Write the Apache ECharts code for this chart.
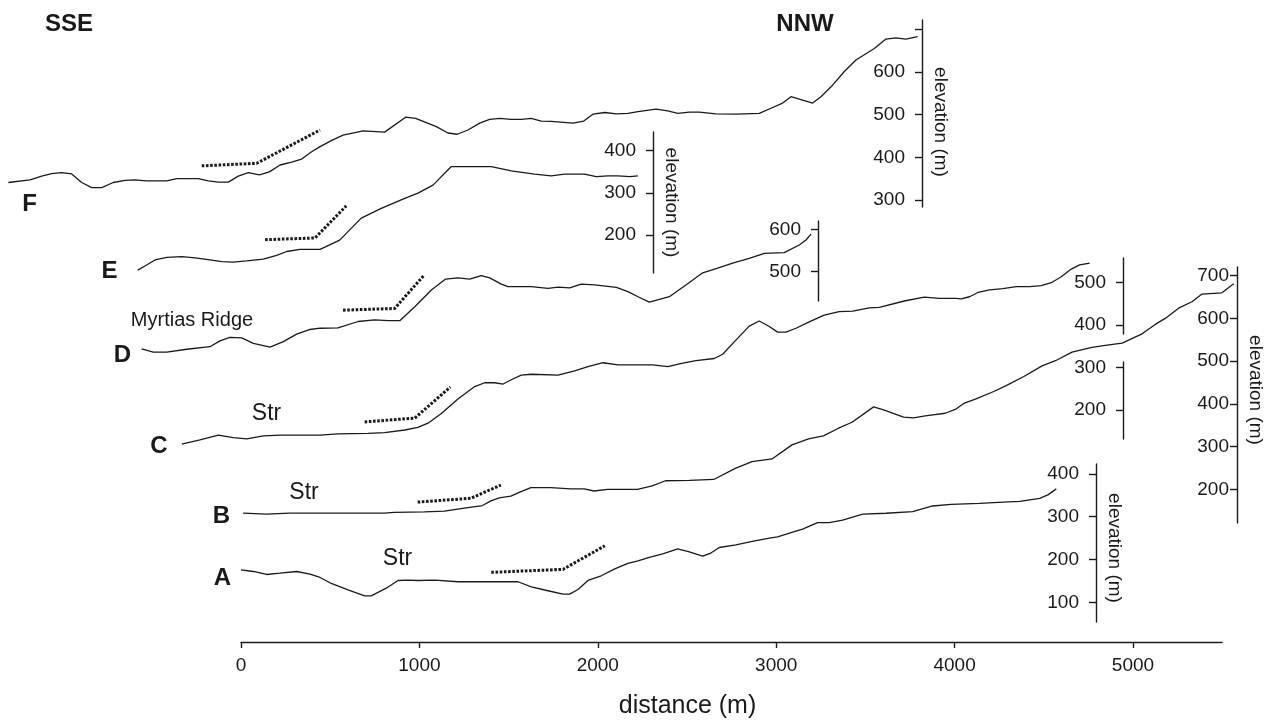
<!DOCTYPE html>
<html><head><meta charset="utf-8">
<script src="https://cdn.jsdelivr.net/npm/echarts@6/dist/echarts.min.js"></script>
<style>html,body{margin:0;padding:0;background:#fff}#chart{width:1273px;height:720px}</style>
</head><body><div id="chart"></div>
<script>
// ---------- data (distance m, elevation m) ----------
const profileF = [[-1304,341],[-1183,347],[-1117,356],[-1061,362],[-1005,364],[-949,361],[-893,341],[-837,329],[-781,329],[-716,341],[-650,346],[-594,347],[-529,345],[-416,345],[-360,350],[-239,350],[-183,345],[-127,342],[-71,342],[-15,356],[41,364],[103,359],[159,366],[219,382],[284,389],[340,396],[396,413],[443,425],[506,439],[572,452],[684,462],[805,459],[923,494],[979,491],[1095,472],[1160,457],[1212,454],[1272,464],[1338,480],[1394,489],[1450,491],[1515,489],[1571,489],[1627,491],[1683,485],[1739,484],[1861,480],[1921,485],[1973,501],[2039,505],[2104,502],[2169,503],[2225,507],[2326,513],[2392,509],[2448,503],[2513,506],[2569,506],[2662,502],[2774,501],[2905,503],[2971,515],[3036,527],[3083,542],[3148,534],[3204,527],[3251,542],[3316,569],[3382,601],[3447,628],[3550,655],[3615,677],[3671,680],[3727,677],[3793,683]];
const profileE = [[-579,117],[-529,129],[-482,141],[-416,147],[-332,149],[-258,146],[-174,141],[-108,137],[-43,136],[32,139],[125,143],[200,152],[256,161],[331,166],[443,166],[553,188],[674,240],[786,263],[908,285],[992,299],[1076,318],[1179,362],[1403,362],[1515,352],[1646,344],[1739,340],[1814,344],[1926,344],[1991,338],[2057,340],[2113,340],[2179,338],[2225,340]];
const profileD = [[-557,316],[-492,308],[-416,308],[-304,315],[-174,321],[-118,335],[-62,343],[4,342],[69,329],[163,320],[237,333],[312,351],[387,362],[443,365],[544,366],[656,381],[749,385],[824,383],[890,383],[974,416],[1067,456],[1147,482],[1216,485],[1282,482],[1347,490],[1394,485],[1459,470],[1497,464],[1627,464],[1721,460],[1777,463],[1842,461],[1907,470],[1982,468],[2104,462],[2169,452],[2225,440],[2289,427],[2401,440],[2494,468],[2588,497],[2672,508],[2756,520],[2849,531],[2933,543],[3045,545],[3129,563],[3167,575],[3195,589]];
const profileC = [[-332,120],[-230,130],[-127,141],[-43,135],[32,132],[125,139],[219,141],[443,141],[544,144],[712,145],[805,147],[918,153],[992,159],[1048,169],[1123,192],[1216,226],[1310,255],[1366,264],[1422,264],[1469,261],[1515,271],[1571,282],[1627,284],[1777,282],[1870,292],[1945,302],[2029,311],[2113,306],[2225,306],[2308,306],[2392,302],[2476,310],[2550,316],[2653,321],[2700,331],[2774,364],[2849,397],[2905,409],[2961,396],[3008,383],[3055,383],[3111,392],[3185,407],[3269,423],[3353,431],[3429,432],[3522,440],[3578,441],[3718,456],[3830,465],[3914,462],[4008,462],[4037,461],[4084,466],[4131,476],[4196,482],[4271,485],[4346,490],[4421,490],[4486,492],[4542,499],[4598,513],[4654,531],[4701,541],[4757,545]];
const profileB = [[13,144],[144,142],[275,144],[443,144],[805,144],[861,146],[1030,147],[1142,149],[1254,156],[1356,162],[1403,173],[1450,180],[1515,184],[1562,193],[1627,204],[1739,204],[1851,201],[1926,201],[1982,196],[2057,200],[2169,200],[2225,200],[2308,208],[2382,220],[2517,221],[2653,223],[2774,249],[2868,265],[2980,271],[3092,304],[3185,318],[3269,325],[3353,343],[3429,357],[3550,393],[3606,386],[3718,369],[3774,367],[3839,372],[3952,378],[4008,387],[4056,401],[4121,411],[4224,429],[4299,444],[4393,464],[4495,489],[4570,501],[4663,521],[4775,532],[4850,537],[4944,542],[5056,564],[5130,586],[5186,600],[5261,624],[5336,639],[5392,657],[5504,660],[5570,681]];
const profileA = [[0,176],[69,172],[144,165],[219,168],[312,172],[387,166],[443,158],[506,144],[600,129],[693,115],[730,115],[814,133],[880,151],[936,152],[992,151],[1086,152],[1216,148],[1553,148],[1627,136],[1721,127],[1805,119],[1842,119],[1889,130],[1945,151],[2019,162],[2095,178],[2169,191],[2225,197],[2289,205],[2364,213],[2448,225],[2513,218],[2588,208],[2634,215],[2681,228],[2774,234],[2859,242],[2961,250],[3008,253],[3092,264],[3148,271],[3232,286],[3297,286],[3372,292],[3485,306],[3615,308],[3765,312],[3877,325],[3980,329],[4140,331],[4271,334],[4365,336],[4477,343],[4523,351],[4570,365]];

const dottedF = [[-220,380],[88,386],[443,464]];
const dottedE = [[135,189],[415,193],[590,269]];
const dottedD = [[572,408],[861,412],[1026,491]];
const dottedC = [[693,172],[974,181],[1174,254]];
const dottedB = [[992,170],[1291,179],[1459,210]];
const dottedA = [[1403,170],[1805,177],[2039,232]];

const distanceTicks = [0,1000,2000,3000,4000,5000];
const elevTicksF = [300,400,500,600,700];
const elevLabelsF = [300,400,500,600];
const elevTicksE = [200,300,400];
const elevTicksD = [500,600];
const elevTicksCUpper = [400,500];
const elevTicksCLower = [200,300];
const elevTicksB = [200,300,400,500,600,700];
const elevTicksA = [100,200,300,400];

// ---------- layout ----------
const FONT = "'Liberation Sans', Arial, sans-serif";
const INK = '#1a1a1a';
const PX_PER_M = 0.1784, X_ZERO_PX = 241;
const toDist = px => (px - X_ZERO_PX) / PX_PER_M;
const plain = v => String(Math.round(v));

const panels = [
  {data: profileF, dots: dottedF, axisX: 922, top: 20, bottom: 207, min: 283.6, max: 721.7, ticks: elevTicksF, labels: elevLabelsF, name: 'elevation (m)', margin: 17, pad: [0,0,0,17]},
  {data: profileE, dots: dottedE, axisX: 653, top: 132, bottom: 273, min: 110.1, max: 443.8, ticks: elevTicksE, labels: elevTicksE, name: 'elevation (m)', margin: 17, pad: [0,0,0,0]},
  {data: profileD, dots: dottedD, axisX: 818, top: 221, bottom: 301, min: 429.8, max: 620.2, ticks: elevTicksD, labels: elevTicksD, name: '', margin: 17},
  {data: profileC, dots: dottedC, axisX: 1123, top: 258, bottom: 334, min: 378.5, max: 557.0, ticks: elevTicksCUpper, labels: elevTicksCUpper, name: '', margin: 17},
  {data: null, dots: null, axisX: 1123, top: 362, bottom: 439, min: 131.9, max: 312.8, ticks: elevTicksCLower, labels: elevTicksCLower, name: '', margin: 17},
  {data: profileB, dots: dottedB, axisX: 1238, top: 267, bottom: 523, min: 121.1, max: 720.4, ticks: elevTicksB, labels: elevTicksB, name: 'elevation (m)', margin: 8, pad: [0,10,0,0]},
  {data: profileA, dots: dottedA, axisX: 1096, top: 464, bottom: 622, min: 54.0, max: 423.1, ticks: elevTicksA, labels: elevTicksA, name: 'elevation (m)', margin: 17, pad: [0,0,0,10]}
];

const grid = [], xAxis = [], yAxis = [], series = [];
panels.forEach((p, i) => {
  grid.push({left: 0, width: p.axisX, top: p.top, height: p.bottom - p.top});
  xAxis.push({type: 'value', gridIndex: i, min: toDist(0), max: toDist(p.axisX), show: false, axisLine: {onZero: false}});
  yAxis.push({
    type: 'value', gridIndex: i, position: 'right', min: p.min, max: p.max,
    splitLine: {show: false},
    axisLine: {show: true, onZero: false, lineStyle: {color: INK, width: 1.4}},
    axisTick: {show: true, inside: true, length: 7, lineStyle: {color: INK, width: 1.4}, customValues: p.ticks},
    axisLabel: {show: true, inside: true, margin: p.margin, color: INK, fontSize: 19, fontFamily: FONT, customValues: p.labels, formatter: plain},
    name: p.name, nameLocation: 'middle', nameGap: 9, nameRotate: -90,
    nameTextStyle: {color: INK, fontSize: 19, fontFamily: FONT, padding: p.pad || 0}
  });
  if (p.data) {
    series.push({type: 'line', xAxisIndex: i, yAxisIndex: i, data: p.data, showSymbol: false, clip: false, silent: true,
      lineStyle: {color: INK, width: 1.3}});
    series.push({type: 'line', xAxisIndex: i, yAxisIndex: i, data: p.dots, showSymbol: false, clip: false, silent: true,
      lineStyle: {color: INK, width: 3, type: [2.6, 1.6], cap: 'butt'}});
  }
});

// bottom distance axis
const gi = grid.length;
grid.push({left: 241, width: 981, top: 560, height: 82});
xAxis.push({
  type: 'value', gridIndex: gi, min: 0, max: toDist(1222), position: 'bottom',
  splitLine: {show: false},
  axisLine: {show: true, onZero: false, lineStyle: {color: INK, width: 1.4}},
  axisTick: {show: true, length: 6, lineStyle: {color: INK, width: 1.4}, customValues: distanceTicks},
  axisLabel: {show: true, margin: 14, color: INK, fontSize: 19, fontFamily: FONT, customValues: distanceTicks, formatter: plain},
  name: 'distance (m)', nameLocation: 'middle', nameGap: 52,
  nameTextStyle: {color: INK, fontSize: 25, fontFamily: FONT, padding: [0, 88, 0, 0]}
});
yAxis.push({type: 'value', gridIndex: gi, show: false, min: 0, max: 1, axisLine: {onZero: false}});

const txt = (x, y, text, size, bold) => ({
  type: 'text', x, y, silent: true,
  style: {text, fill: INK, font: (bold ? 'bold ' : '') + size + 'px ' + FONT, align: 'center', verticalAlign: 'middle'}
});

const chart = echarts.init(document.getElementById('chart'), null, {renderer: 'canvas'});
chart.setOption({
  animation: false,
  backgroundColor: '#ffffff',
  grid, xAxis, yAxis, series,
  graphic: [
    txt(69, 24, 'SSE', 24, true),
    txt(805, 24, 'NNW', 24, true),
    txt(29.5, 204.5, 'F', 24, true),
    txt(109.5, 271.5, 'E', 24, true),
    txt(122.5, 355.5, 'D', 24, true),
    txt(159, 446.5, 'C', 24, true),
    txt(221.5, 516.5, 'B', 24, true),
    txt(222.5, 578.5, 'A', 24, true),
    txt(192, 320, 'Myrtias Ridge', 20, false),
    txt(266.5, 414, 'Str', 23, false),
    txt(304, 493, 'Str', 23, false),
    txt(397.5, 559, 'Str', 23, false)
  ]
});
</script>
</body></html>
